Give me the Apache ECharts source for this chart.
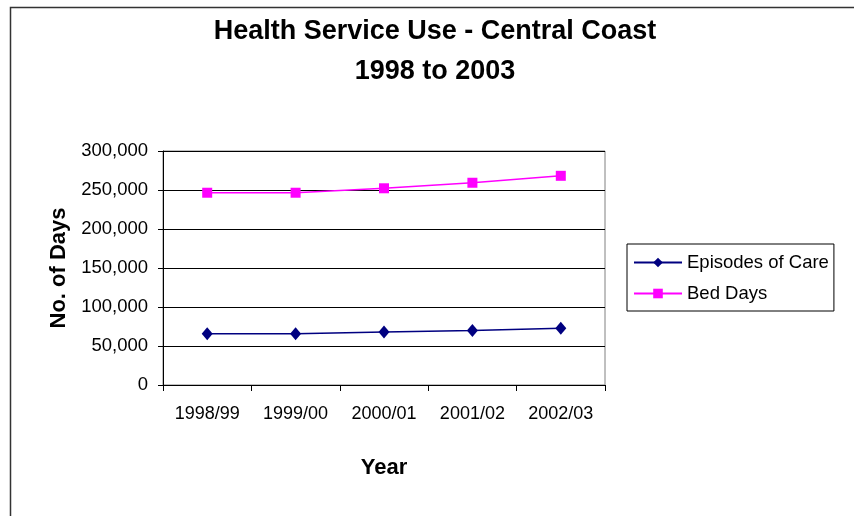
<!DOCTYPE html>
<html>
<head>
<meta charset="utf-8">
<script src="https://cdn.jsdelivr.net/npm/echarts@6/dist/echarts.min.js"></script>
<style>
html,body{margin:0;padding:0;background:#fff;}
#chart{width:854px;height:516px;}
</style>
</head>
<body>
<div id="chart"></div>
<script>
var categories = ['1998/99', '1999/00', '2000/01', '2001/02', '2002/03'];
var episodesOfCare = [65800, 65800, 67900, 70000, 72600];
var bedDays = [246500, 246500, 252200, 259300, 268200];
var yTicks = { min: 0, max: 300000, interval: 50000 };

var chart = echarts.init(document.getElementById('chart'));
var font = 'Liberation Sans, Arial, sans-serif';
chart.setOption({
  animation: false,
  backgroundColor: '#fff',
  textStyle: { fontFamily: font },
  title: {
    text: 'Health Service Use - Central Coast\n1998 to 2003',
    left: 430, top: 7, textAlign: 'center',
    textStyle: { fontSize: 27, fontWeight: 'bold', color: '#000', lineHeight: 40, fontFamily: font }
  },
  graphic: [
    { type: 'rect', left: 8, top: 5, shape: { x: 0, y: 0, width: 1000, height: 1000 },
      style: { fill: 'none', stroke: '#333', lineWidth: 1.5 }, z: -1 },
    { type: 'rect', shape: { x: 163, y: 151, width: 442, height: 234 },
      style: { fill: 'none', stroke: '#808080', lineWidth: 1 }, z: 0 }
  ],
  legend: {
    orient: 'vertical', left: 627, top: 244,
    backgroundColor: '#fff', borderColor: '#000', borderWidth: 1,
    padding: [9, 5, 8, 6], itemGap: 12, itemWidth: 48, itemHeight: 12,
    textStyle: { fontSize: 18.5, color: '#000', fontFamily: font },
    data: ['Episodes of Care', 'Bed Days']
  },
  grid: { left: 163, right: 249, top: 151, bottom: 131, containLabel: false },
  xAxis: {
    type: 'category', data: categories, boundaryGap: true,
    name: 'Year', nameLocation: 'middle', nameGap: 72,
    nameTextStyle: { fontSize: 22, fontWeight: 'bold', color: '#000', fontFamily: font },
    axisLine: { lineStyle: { color: '#000', width: 1 } },
    axisTick: { show: true, length: 6, lineStyle: { color: '#000' } },
    axisLabel: { fontSize: 18, color: '#000', margin: 20, fontFamily: font },
    splitLine: { show: false }
  },
  yAxis: {
    type: 'value', min: yTicks.min, max: yTicks.max, interval: yTicks.interval,
    name: 'No. of Days', nameLocation: 'middle', nameGap: 92, nameRotate: 90,
    nameTextStyle: { fontSize: 22, fontWeight: 'bold', color: '#000', fontFamily: font },
    axisLine: { show: true, lineStyle: { color: '#000', width: 1 } },
    axisTick: { show: true, length: 5, lineStyle: { color: '#000' } },
    axisLabel: {
      fontSize: 18.5, color: '#000', margin: 15, fontFamily: font,
      formatter: function (v) { return v.toLocaleString('en-US'); }
    },
    splitLine: { show: true, lineStyle: { color: '#000', width: 1 } }
  },
  series: [
    {
      name: 'Episodes of Care', type: 'line', data: episodesOfCare,
      symbol: 'diamond', symbolSize: [11, 13],
      lineStyle: { color: '#000080', width: 1.5 },
      itemStyle: { color: '#000080' }
    },
    {
      name: 'Bed Days', type: 'line', data: bedDays,
      symbol: 'rect', symbolSize: 10,
      lineStyle: { color: '#FF00FF', width: 1.5 },
      itemStyle: { color: '#FF00FF' }
    }
  ]
});
</script>
</body>
</html>
